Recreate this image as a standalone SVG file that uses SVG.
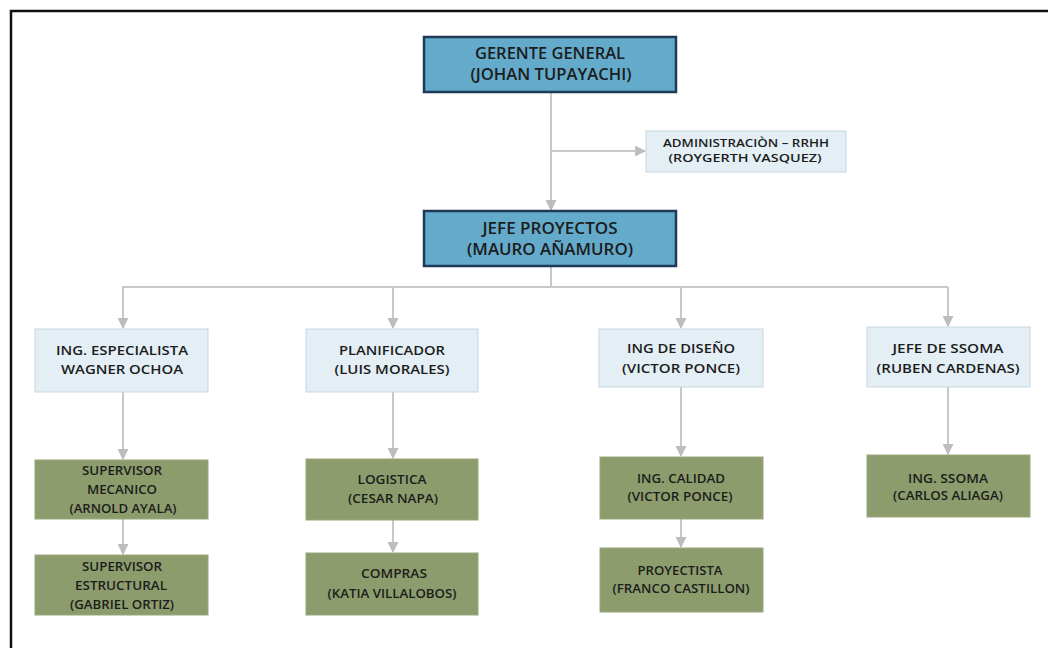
<svg xmlns="http://www.w3.org/2000/svg" width="1048" height="648" viewBox="0 0 1048 648">
  <defs>
    <style>
      .frame { fill: none; stroke: #111; stroke-width: 2.5; }
      .lead { fill: #64aacb; stroke: #1e3a56; stroke-width: 2.5; }
      .staff { fill: #e3eef5; stroke: #c9d7e1; stroke-width: 1; }
      .unit { fill: #8c9c6c; stroke: #98a87a; stroke-width: 1; }
      .wire { fill: none; stroke: #c8c8c8; stroke-width: 2; }
      text { font-family: "Open Sans", "Liberation Sans", sans-serif; fill: #1c1c1c; text-anchor: middle; }
      .t1 { font-size: 16px; font-weight: 600; }
      .t2 { font-size: 13px; font-weight: 600; }
      .t3 { font-size: 12px; font-weight: 600; }
      .t4 { font-size: 11.5px; font-weight: 600; }
    </style>
    <marker id="tip" viewBox="0 0 10 10" refX="9" refY="5" markerWidth="5.5" markerHeight="5.5" orient="auto" markerUnits="strokeWidth">
      <path d="M0,0 L10,5 L0,10 z" fill="#bdbdbd"/>
    </marker>
  </defs>

  <rect width="1048" height="648" fill="#fff"/>
  <!-- page frame: top and left rules only -->
  <path class="frame" d="M1048,11 H11 V648"/>

  <g id="connectors">
    <path class="wire" d="M551,92 V210" marker-end="url(#tip)"/>
    <path class="wire" d="M551,151 H645" marker-end="url(#tip)"/>
    <path class="wire" d="M551,266 V287"/>
    <path class="wire" d="M122,287 H948"/>
    <path class="wire" d="M123,287 V328" marker-end="url(#tip)"/>
    <path class="wire" d="M393,287 V328" marker-end="url(#tip)"/>
    <path class="wire" d="M681,287 V328" marker-end="url(#tip)"/>
    <path class="wire" d="M948,287 V326" marker-end="url(#tip)"/>
    <path class="wire" d="M123,392 V459" marker-end="url(#tip)"/>
    <path class="wire" d="M393,392 V458" marker-end="url(#tip)"/>
    <path class="wire" d="M681,387 V456" marker-end="url(#tip)"/>
    <path class="wire" d="M948,387 V454" marker-end="url(#tip)"/>
    <path class="wire" d="M123,519 V554" marker-end="url(#tip)"/>
    <path class="wire" d="M393,520 V552" marker-end="url(#tip)"/>
    <path class="wire" d="M681,519 V547" marker-end="url(#tip)"/>
  </g>

  <g id="gerente-general">
    <rect class="lead" x="424" y="37" width="252" height="55"/>
    <text class="t1" x="550" y="59" textLength="150" lengthAdjust="spacingAndGlyphs">GERENTE GENERAL</text>
    <text class="t1" x="551" y="80" textLength="161" lengthAdjust="spacingAndGlyphs">(JOHAN TUPAYACHI)</text>
  </g>

  <g id="administracion">
    <rect class="staff" x="646" y="131" width="200" height="41"/>
    <text class="t4" x="746" y="147" textLength="166" lengthAdjust="spacingAndGlyphs">ADMINISTRACIÒN – RRHH</text>
    <text class="t4" x="745" y="162" textLength="153" lengthAdjust="spacingAndGlyphs">(ROYGERTH VASQUEZ)</text>
  </g>

  <g id="jefe-proyectos">
    <rect class="lead" x="424" y="211" width="252" height="55"/>
    <text class="t1" x="550" y="234" textLength="135" lengthAdjust="spacingAndGlyphs">JEFE PROYECTOS</text>
    <text class="t1" x="550" y="255" textLength="166" lengthAdjust="spacingAndGlyphs">(MAURO AÑAMURO)</text>
  </g>

  <g id="ing-especialista">
    <rect class="staff" x="35" y="329" width="173" height="63"/>
    <text class="t2" x="122" y="355" textLength="132" lengthAdjust="spacingAndGlyphs">ING. ESPECIALISTA</text>
    <text class="t2" x="122" y="374" textLength="122" lengthAdjust="spacingAndGlyphs">WAGNER OCHOA</text>
  </g>

  <g id="planificador">
    <rect class="staff" x="306" y="329" width="172" height="63"/>
    <text class="t2" x="392" y="355" textLength="106" lengthAdjust="spacingAndGlyphs">PLANIFICADOR</text>
    <text class="t2" x="392" y="374" textLength="115" lengthAdjust="spacingAndGlyphs">(LUIS MORALES)</text>
  </g>

  <g id="ing-diseno">
    <rect class="staff" x="599" y="329" width="164" height="58"/>
    <text class="t2" x="681" y="353" textLength="108" lengthAdjust="spacingAndGlyphs">ING DE DISEÑO</text>
    <text class="t2" x="681" y="373" textLength="118" lengthAdjust="spacingAndGlyphs">(VICTOR PONCE)</text>
  </g>

  <g id="jefe-ssoma">
    <rect class="staff" x="867" y="327" width="163" height="60"/>
    <text class="t2" x="948" y="353" textLength="111" lengthAdjust="spacingAndGlyphs">JEFE DE SSOMA</text>
    <text class="t2" x="948" y="373" textLength="143" lengthAdjust="spacingAndGlyphs">(RUBEN CARDENAS)</text>
  </g>

  <g id="supervisor-mecanico">
    <rect class="unit" x="35" y="460" width="173" height="59"/>
    <text class="t3" x="122" y="475" textLength="80" lengthAdjust="spacingAndGlyphs">SUPERVISOR</text>
    <text class="t3" x="122" y="494" textLength="70" lengthAdjust="spacingAndGlyphs">MECANICO</text>
    <text class="t3" x="123" y="513" textLength="107" lengthAdjust="spacingAndGlyphs">(ARNOLD AYALA)</text>
  </g>

  <g id="supervisor-estructural">
    <rect class="unit" x="35" y="555" width="173" height="60"/>
    <text class="t3" x="122" y="571" textLength="80" lengthAdjust="spacingAndGlyphs">SUPERVISOR</text>
    <text class="t3" x="121" y="590" textLength="92" lengthAdjust="spacingAndGlyphs">ESTRUCTURAL</text>
    <text class="t3" x="122" y="609" textLength="104" lengthAdjust="spacingAndGlyphs">(GABRIEL ORTIZ)</text>
  </g>

  <g id="logistica">
    <rect class="unit" x="306" y="459" width="172" height="61"/>
    <text class="t3" x="392" y="484" textLength="69" lengthAdjust="spacingAndGlyphs">LOGISTICA</text>
    <text class="t3" x="393" y="503" textLength="90" lengthAdjust="spacingAndGlyphs">(CESAR NAPA)</text>
  </g>

  <g id="compras">
    <rect class="unit" x="306" y="553" width="172" height="62"/>
    <text class="t3" x="394" y="578" textLength="66" lengthAdjust="spacingAndGlyphs">COMPRAS</text>
    <text class="t3" x="392" y="598" textLength="129" lengthAdjust="spacingAndGlyphs">(KATIA VILLALOBOS)</text>
  </g>

  <g id="ing-calidad">
    <rect class="unit" x="600" y="457" width="163" height="62"/>
    <text class="t3" x="681" y="483" textLength="88" lengthAdjust="spacingAndGlyphs">ING. CALIDAD</text>
    <text class="t3" x="680" y="501" textLength="105" lengthAdjust="spacingAndGlyphs">(VICTOR PONCE)</text>
  </g>

  <g id="proyectista">
    <rect class="unit" x="600" y="548" width="163" height="64"/>
    <text class="t3" x="680" y="575" textLength="85" lengthAdjust="spacingAndGlyphs">PROYECTISTA</text>
    <text class="t3" x="681" y="593" textLength="137" lengthAdjust="spacingAndGlyphs">(FRANCO CASTILLON)</text>
  </g>

  <g id="ing-ssoma">
    <rect class="unit" x="867" y="455" width="163" height="62"/>
    <text class="t3" x="948" y="483" textLength="80" lengthAdjust="spacingAndGlyphs">ING. SSOMA</text>
    <text class="t3" x="948" y="500" textLength="110" lengthAdjust="spacingAndGlyphs">(CARLOS ALIAGA)</text>
  </g>
</svg>
